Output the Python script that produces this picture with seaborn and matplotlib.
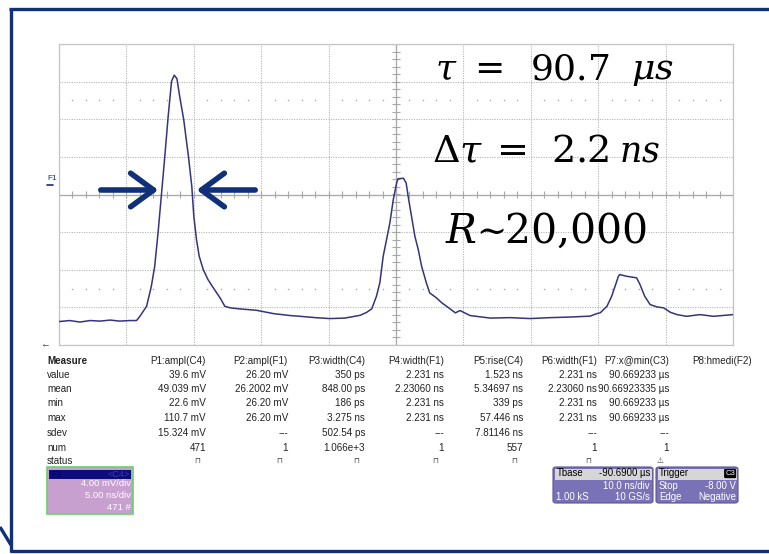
import matplotlib
matplotlib.use("Agg")
import matplotlib.pyplot as plt
from matplotlib.lines import Line2D
from matplotlib.patches import FancyBboxPatch, Rectangle, FancyArrowPatch
import numpy as np
import pandas as pd
import seaborn as sns

# ---------------- data (time in ns, voltage in mV, F1 trace) ----------------
time_ns = [-50.0, -48.4, -46.9, -45.4, -43.9, -42.4, -41.0, -39.5, -38.5, -38.0,
           -37.0, -36.3, -35.8, -35.3, -34.8, -34.3, -33.8, -33.3, -32.9, -32.5,
           -32.1, -31.5, -30.8, -30.3, -30.0, -29.6, -29.2, -28.6, -27.9, -27.1,
           -26.1, -25.4, -24.6, -23.2, -20.7, -18.2, -15.7, -14.2, -12.0, -9.8,
           -7.6, -5.3, -4.4, -3.6, -2.9, -2.4, -1.9, -1.4, -0.9, -0.4,
           0.1, 0.3, 1.1, 1.5, 1.8, 2.3, 2.8, 3.3, 3.8, 4.5,
           5.0, 6.0, 6.8, 7.5, 8.8, 9.5, 11.0, 14.0, 16.9, 19.9,
           22.9, 25.8, 28.8, 29.8, 30.3, 31.3, 32.0, 32.5, 33.0, 33.2,
           34.2, 35.7, 36.2, 36.9, 37.7, 38.7, 39.7, 40.7, 41.7, 43.1,
           45.1, 47.1, 50.0]
volt_mV = [-13.51, -13.40, -13.56, -13.40, -13.46, -13.35, -13.46, -13.40, -13.40, -12.95,
           -11.88, -9.76, -7.63, -4.04, 0.00, 4.07, 8.33, 12.05, 12.69, 12.31,
           10.46, 7.98, 4.07, 0.88, -2.30, -4.79, -6.56, -7.98, -9.04, -9.93,
           -10.99, -11.88, -12.05, -12.16, -12.31, -12.66, -12.87, -12.95, -13.09, -13.19,
           -13.14, -12.84, -12.55, -12.16, -10.82, -9.39, -6.56, -4.79, -2.98, -0.53,
           1.24, 1.67, 1.73, 1.24, -0.18, -2.31, -4.44, -5.85, -7.63, -9.39,
           -10.46, -10.99, -11.52, -11.88, -12.58, -12.34, -12.87, -13.14, -13.09, -13.19,
           -13.09, -13.03, -12.93, -12.66, -12.58, -11.88, -10.82, -9.76, -8.69, -8.51,
           -8.69, -8.86, -9.57, -10.82, -11.70, -11.95, -12.05, -12.52, -12.77, -12.95,
           -12.77, -12.95, -12.77]

row_labels = ["value", "mean", "min", "max", "sdev", "num", "status"]
col_headers = ["P1:ampl(C4)", "P2:ampl(F1)", "P3:width(C4)", "P4:width(F1)",
               "P5:rise(C4)", "P6:width(F1)", "P7:x@min(C3)", "P8:hmedi(F2)"]
P1 = ["39.6 mV", "49.039 mV", "22.6 mV", "110.7 mV", "15.324 mV", "471", "⊓"]
P2 = ["26.20 mV", "26.2002 mV", "26.20 mV", "26.20 mV", "---", "1", "⊓"]
P3 = ["350 ps", "848.00 ps", "186 ps", "3.275 ns", "502.54 ps", "1.066e+3", "⊓"]
P4 = ["2.231 ns", "2.23060 ns", "2.231 ns", "2.231 ns", "---", "1", "⊓"]
P5 = ["1.523 ns", "5.34697 ns", "339 ps", "57.446 ns", "7.81146 ns", "557", "⊓"]
P6 = ["2.231 ns", "2.23060 ns", "2.231 ns", "2.231 ns", "---", "1", "⊓"]
P7 = ["90.669233 µs", "90.66923335 µs", "90.669233 µs", "90.669233 µs", "---", "1", "⚠"]
P8 = ["", "", "", "", "", "", ""]

# annotation pieces for the three lines (math text + plain relation signs)
line1 = [r"$\tau$", "=", r"$90.7$", r"$\mu s$"]
line2 = [r"$\Delta\tau$", "=", r"$2.2$", r"$ns$"]
line3 = [r"$R$", "∼", r"$20{,}000$"]

# ---------------- figure ----------------
W, H = 769, 554
sns.set_style("white")
plt.rcParams["font.family"] = ["Liberation Sans", "DejaVu Sans"]
plt.rcParams["mathtext.fontset"] = "dejavuserif"

fig = plt.figure(figsize=(W / 100, H / 100), dpi=100)

def fx(x):
    return x / W

def fy(y):
    return 1 - y / H

L, R, T, B = 59, 733, 44, 345
ax = fig.add_axes([fx(L), fy(B), (R - L) / W, (B - T) / H])

df = pd.DataFrame({"t": time_ns, "v": volt_mV})
sns.lineplot(data=df, x="t", y="v", ax=ax, color="#34347f", linewidth=1.1,
             estimator=None, sort=False, zorder=5)

ax.set_xlim(-50, 50)
ax.set_ylim(-16, 16)
ax.set_xticks(np.arange(-50, 51, 10))
ax.set_yticks(np.arange(-16, 17, 4))
ax.set_xticklabels([])
ax.set_yticklabels([])
ax.tick_params(length=0)
ax.set_xlabel("")
ax.set_ylabel("")
ax.grid(True, color="#b4b4b4", linestyle=(0, (1, 1.2)), linewidth=0.8)
for s in ax.spines.values():
    s.set_color("#c4c4c4")
    s.set_linewidth(0.9)

# centre cross with ticks
ax.axhline(0, color="#a8a8a8", lw=0.9, zorder=2)
ax.axvline(0, color="#a8a8a8", lw=0.9, zorder=2)
xt = np.arange(-50, 50.01, 2)
ax.vlines(xt, -0.35, 0.35, color="#a8a8a8", lw=0.8, zorder=2)
yt = np.arange(-16, 16.01, 0.8)
ax.hlines(yt, -0.6, 0.6, color="#a8a8a8", lw=0.8, zorder=2)
# minor dot rows
xd = np.array([x for x in np.arange(-48, 50, 2) if abs(x % 10) > 1e-6])
for yy in (10, -10):
    ax.scatter(xd, np.full_like(xd, yy, dtype=float), s=1.2, color="#a8a8a8",
               zorder=2, linewidths=0)

# big annotations, piece by piece
serif = ["DejaVu Serif"]
for txt, xp, sz in zip(line1, [435, 474, 530, 631], [26, 26, 26, 26]):
    fig.text(fx(xp), fy(79), txt, fontsize=sz, color="black", va="baseline", ha="left",
             family=serif)
for txt, xp, sz in zip(line2, [432, 497, 551, 619], [27.5, 27.5, 27.5, 25]):
    fig.text(fx(xp), fy(162), txt, fontsize=sz, color="black", va="baseline", ha="left",
             family=serif)
for txt, xp, sz in zip(line3, [445, 476, 504], [29.5, 26, 29.5]):
    fig.text(fx(xp), fy(243), txt, fontsize=sz, color="black", va="baseline", ha="left",
             family=serif)

# arrows marking the FWHM
navy = "#10307a"
for (xa, xb) in [(98, 161), (258, 194)]:
    fig.add_artist(FancyArrowPatch((fx(xa), fy(190)), (fx(xb), fy(190)),
                   transform=fig.transFigure, arrowstyle="->,head_length=7.5,head_width=5.5",
                   color=navy, lw=4.0, mutation_scale=2.2, capstyle="round",
                   joinstyle="round"))

# F1 label
fig.text(fx(47), fy(178), "F1", fontsize=6, color=navy, va="center", ha="left")
fig.add_artist(Line2D([fx(47), fx(53)], [fy(184.5), fy(184.5)], color=navy, lw=1.2))
fig.text(fx(40), fy(344), "←", fontsize=7, color=navy, va="center", ha="left")

# outer frame
for (x0, y0, x1, y1) in [(9, 9, 769, 9), (10.5, 8, 10.5, 552), (10, 551, 769, 551), (0, 527, 11, 545)]:
    fig.add_artist(Line2D([fx(x0), fx(x1)], [fy(y0), fy(y1)], color="#12307a", lw=2.4,
                          solid_capstyle="butt"))

# measurement table
ty = [361, 374.5, 389, 403.5, 418, 433, 448, 461.5]
fs = 7.1
tc = "#222222"
fig.text(fx(47), fy(ty[0]), "Measure", fontsize=fs, color=tc, weight="bold", va="center")
for i, lab in enumerate(row_labels):
    fig.text(fx(47), fy(ty[i + 1]), lab, fontsize=fs, color=tc, va="center")
col_right = [206, 288, 365, 444, 523, 597, 669, 752]
cols = [P1, P2, P3, P4, P5, P6, P7, P8]
for cx, head, vals in zip(col_right, col_headers, cols):
    fig.text(fx(cx), fy(ty[0]), head, fontsize=fs, color=tc, va="center", ha="right")
    for i, v in enumerate(vals):
        if i == 6:
            fig.text(fx(cx - 6), fy(ty[i + 1]), v, fontsize=5.5, color="#444444",
                     va="center", ha="right")
        else:
            fig.text(fx(cx), fy(ty[i + 1]), v, fontsize=fs, color=tc, va="center", ha="right")

# F1 channel box (bottom left)
fig.add_artist(Rectangle((fx(47), fy(514)), (133 - 47) / W, (514 - 467) / H,
                         transform=fig.transFigure, facecolor="#c8a0d0",
                         edgecolor="#66d466", lw=1.2, zorder=3))
fig.add_artist(Rectangle((fx(49), fy(479)), (131 - 49) / W, (479 - 469.5) / H,
                         transform=fig.transFigure, facecolor="#0c0c7c", edgecolor="none",
                         zorder=4))
fig.text(fx(51), fy(474.5), "F1", fontsize=6.5, color="#000060", va="center", zorder=5)
fig.text(fx(130), fy(474.5), "<C4>", fontsize=6.5, color="#3a3aa0", va="center", ha="right",
         zorder=5)
for yy, s in zip([484, 496, 507.5], ["4.00 mV/div", "5.00 ns/div", "471 #"]):
    fig.text(fx(131), fy(yy), s, fontsize=6.8, color="white", va="center", ha="right", zorder=5)

# Timebase / trigger boxes (bottom right)
def box(x0, x1, y0, y1):
    fig.add_artist(FancyBboxPatch((fx(x0), fy(y1)), (x1 - x0) / W, (y1 - y0) / H,
                                  boxstyle="round,pad=0,rounding_size=0.004",
                                  transform=fig.transFigure, facecolor="#7a72b6",
                                  edgecolor="#5a5294", lw=0.8))
    fig.add_artist(Rectangle((fx(x0 + 1.5), fy(480)), (x1 - x0 - 3) / W, (480 - y0 - 1.5) / H,
                             transform=fig.transFigure, facecolor="#d6d6d6", edgecolor="none"))

box(553, 653, 467, 503)
box(656, 738, 467, 503)
bfs = 6.9
fig.text(fx(557), fy(473.5), "Tbase", fontsize=bfs, color="black", va="center")
fig.text(fx(650), fy(473.5), "-90.6900 µs", fontsize=bfs, color="black", va="center", ha="right")
fig.text(fx(650), fy(486), "10.0 ns/div", fontsize=bfs, color="white", va="center", ha="right")
fig.text(fx(556), fy(497.5), "1.00 kS", fontsize=bfs, color="white", va="center")
fig.text(fx(650), fy(497.5), "10 GS/s", fontsize=bfs, color="white", va="center", ha="right")
fig.text(fx(659), fy(473.5), "Trigger", fontsize=bfs, color="black", va="center")
fig.text(fx(735), fy(473.5), "C3", fontsize=5.5, color="white", va="center", ha="right",
         bbox=dict(boxstyle="round,pad=0.15", facecolor="black", edgecolor="none"))
fig.text(fx(659), fy(486), "Stop", fontsize=bfs, color="white", va="center")
fig.text(fx(736), fy(486), "-8.00 V", fontsize=bfs, color="white", va="center", ha="right")
fig.text(fx(659), fy(497.5), "Edge", fontsize=bfs, color="white", va="center")
fig.text(fx(736), fy(497.5), "Negative", fontsize=bfs, color="white", va="center", ha="right")

fig.savefig("out.png", dpi=100)
